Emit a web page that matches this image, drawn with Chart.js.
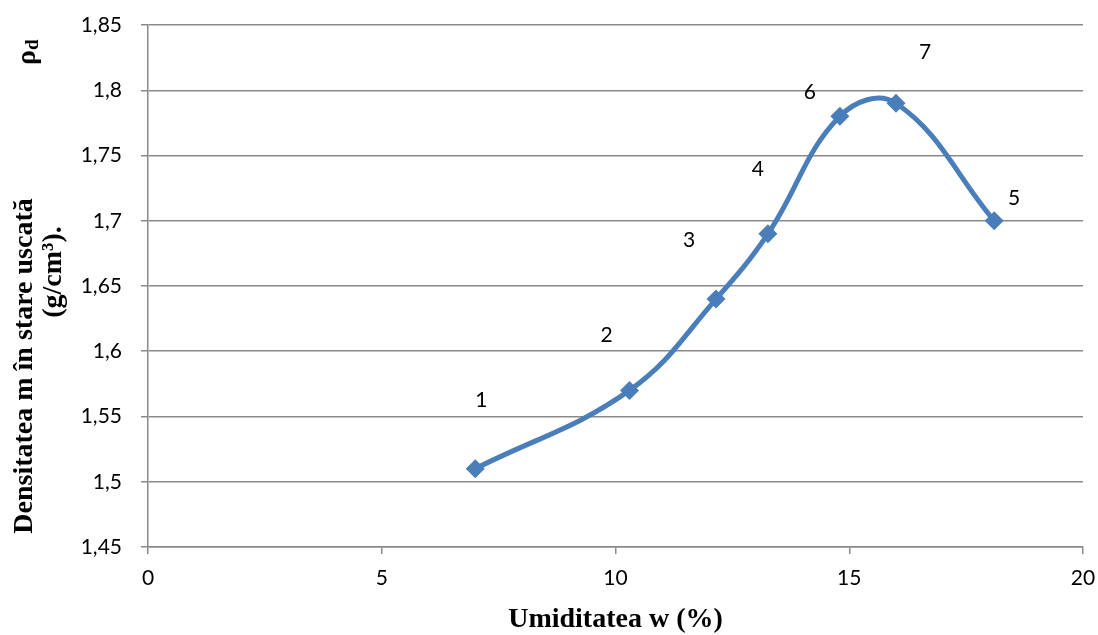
<!DOCTYPE html>
<html>
<head>
<meta charset="utf-8">
<script src="https://cdn.jsdelivr.net/npm/chart.js@4.4.1/dist/chart.umd.min.js"></script>
<style>
  body { margin: 0; background: #ffffff; }
  #wrap { width: 1098px; height: 635px; }
</style>
</head>
<body>
<div id="wrap"><canvas id="chart" width="1098" height="635"></canvas></div>
<script>
// Data (moisture w %, dry density g/cm3)
const moisture = [7.0, 10.3, 12.15, 13.26, 14.8, 16.0, 18.1];
const density = [1.51, 1.57, 1.64, 1.69, 1.78, 1.79, 1.70];
const pointLabels = ['1', '2', '3', '4', '6', '7', '5'];

// Axis ranges
const xMin = 0, xMax = 20, xStep = 5;
const yMin = 1.45, yMax = 1.85, yStep = 0.05;

const xTitle = 'Umiditatea w (%)';
const yTitleLines = ['Densitatea m în stare uscată', '(g/cm³).'];

// Label offsets (pixels) from each point, as placed in the original
const labelShift = [[6, -68], [-23, -55], [-27, -59], [-10, -65], [-30, -24], [29, -51], [20, -23]];

const blue = '#4a7ebb';
const gridGray = '#8a8a8a';
const tickFont = { family: 'Lato', size: 21 };

// Plugin to draw point labels and axis titles
const extras = {
    id: 'extras',
    afterDatasetsDraw(chart) {
        const ctx = chart.ctx;
        const meta = chart.getDatasetMeta(0);
        ctx.save();
        ctx.fillStyle = '#000000';
        ctx.font = '21px Lato';
        ctx.textAlign = 'center';
        ctx.textBaseline = 'middle';
        meta.data.forEach(function(pt, i) {
            ctx.fillText(pointLabels[i], pt.x + labelShift[i][0], pt.y + labelShift[i][1]);
        });
        ctx.restore();
    },
    afterDraw(chart) {
        const ctx = chart.ctx;
        const area = chart.chartArea;
        ctx.save();
        ctx.fillStyle = '#000000';
        // x axis title
        ctx.font = 'bold 28px "Liberation Serif"';
        ctx.textAlign = 'center';
        ctx.textBaseline = 'middle';
        ctx.fillText(xTitle, (area.left + area.right) / 2, 620);

        // y axis title (rotated)
        ctx.save();
        ctx.translate(25, 366);
        ctx.rotate(-Math.PI / 2);
        ctx.fillText(yTitleLines[0], 0, 0);
        ctx.restore();
        ctx.save();
        ctx.translate(54, 272);
        ctx.rotate(-Math.PI / 2);
        ctx.fillText(yTitleLines[1], 0, 0);
        ctx.restore();

        // rho_d symbol
        ctx.save();
        ctx.translate(28, 52);
        ctx.rotate(-Math.PI / 2);
        ctx.textAlign = 'left';
        ctx.font = 'bold 28px "Liberation Serif"';
        ctx.fillText('ρ', -13, 0);
        const w = ctx.measureText('ρ').width;
        ctx.font = 'bold 19px "Liberation Serif"';
        ctx.fillText('d', -13 + w, 5);
        ctx.restore();
        ctx.restore();
    }
};

const chart = new Chart(document.getElementById('chart'), {
    type: 'scatter',
    data: {
        datasets: [{
            data: moisture.map(function(x, i) { return { x: x, y: density[i] }; }),
            showLine: true,
            borderColor: blue,
            borderWidth: 5,
            tension: 0.4,
            backgroundColor: blue,
            pointStyle: 'rectRot',
            pointRadius: 9.5,
            pointBorderWidth: 0,
            pointBackgroundColor: blue,
            clip: false
        }]
    },
    options: {
        responsive: false,
        animation: false,
        layout: { padding: { top: 25, right: 15, left: 0, bottom: 0 } },
        plugins: {
            legend: { display: false },
            tooltip: { enabled: false }
        },
        scales: {
            x: {
                type: 'linear',
                min: xMin,
                max: xMax,
                afterFit: function(scale) {
                    scale.height = 88;
                    scale.paddingLeft = 0;
                    scale.paddingRight = 0;
                },
                ticks: {
                    stepSize: xStep,
                    color: '#000000',
                    font: tickFont,
                    padding: 12,
                    maxRotation: 0
                },
                grid: {
                    display: true,
                    drawOnChartArea: false,
                    drawTicks: true,
                    tickLength: 7,
                    color: gridGray,
                    lineWidth: 1.5
                },
                border: { color: gridGray, width: 1.5 }
            },
            y: {
                min: yMin,
                max: yMax,
                afterFit: function(scale) {
                    scale.width = 148;
                    scale.paddingTop = 0;
                    scale.paddingBottom = 0;
                },
                ticks: {
                    stepSize: yStep,
                    color: '#000000',
                    font: tickFont,
                    padding: 19,
                    callback: function(v) {
                        return String(Math.round(v * 100) / 100).replace('.', ',');
                    }
                },
                grid: {
                    color: gridGray,
                    lineWidth: 1.5,
                    tickLength: 7
                },
                border: { color: gridGray, width: 1.5 }
            }
        }
    },
    plugins: [extras]
});
</script>
</body>
</html>
